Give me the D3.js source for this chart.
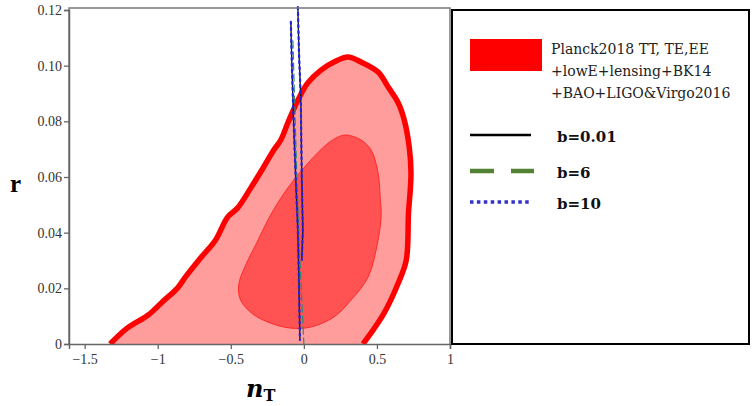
<!DOCTYPE html>
<html>
<head>
<meta charset="utf-8">
<script src="https://cdn.jsdelivr.net/npm/d3@7"></script>
<style>
  body { margin: 0; background: #fff; }
  svg { display: block; }
</style>
</head>
<body>
<svg id="chart" width="752" height="406"></svg>
<script>
// tick labels
const nTTicks = [-1.5, -1, -0.5, 0, 0.5, 1]
const rTicks = [0, 0.02, 0.04, 0.06, 0.08, 0.10, 0.12]

// 95% contour (outer)
const outerNT = [-1.326, -1.209, -1.065, -0.969, -0.865, -0.810, -0.707, -0.604, -0.522, -0.453, -0.364, -0.275, -0.206, -0.158, -0.110, -0.041, 0.027, 0.117, 0.206, 0.302, 0.391, 0.508, 0.577, 0.646, 0.687, 0.721, 0.733, 0.728, 0.716, 0.701, 0.646, 0.549, 0.405]
const outerR = [0, 0.0057, 0.0104, 0.0151, 0.0201, 0.0241, 0.0309, 0.0374, 0.0456, 0.0489, 0.0560, 0.0636, 0.0697, 0.0733, 0.0794, 0.0876, 0.0938, 0.0984, 0.1013, 0.1031, 0.1013, 0.0977, 0.0923, 0.0866, 0.0805, 0.0708, 0.0614, 0.0553, 0.0471, 0.0302, 0.0219, 0.0111, 0]

// 68% contour (inner)
const innerNT = [0.288, 0.391, 0.460, 0.508, 0.522, 0.529, 0.508, 0.440, 0.323, 0.206, 0.048, -0.089, -0.227, -0.350, -0.433, -0.446, -0.398, -0.323, -0.247, -0.158, -0.069, 0.048, 0.151, 0.220]
const innerR = [0.0751, 0.0733, 0.0697, 0.0614, 0.0528, 0.0463, 0.0374, 0.0241, 0.0158, 0.0097, 0.0061, 0.0057, 0.0075, 0.0108, 0.0158, 0.0212, 0.0284, 0.0363, 0.0445, 0.0524, 0.0589, 0.0661, 0.0715, 0.0740]

// model curves, two branches each
const branchLeftNT = [-0.089, -0.082, -0.068, -0.055, -0.041, -0.034, -0.027]
const branchLeftR = [0.1157, 0.1, 0.0765, 0.0585, 0.0409, 0.0230, 0.0014]
const branchRightNT = [-0.041, -0.034, -0.021, -0.014, -0.007, -0.014]
const branchRightR = [0.121, 0.1056, 0.0880, 0.0589, 0.0410, 0.0302]
const b6NT = [-0.075, -0.062, -0.048, -0.027, 0.0]
const b6R = [0.109, 0.085, 0.06, 0.03, 0]

const legendText = ['Planck2018 TT, TE,EE', '+lowE+lensing+BK14', '+BAO+LIGO&Virgo2016']
const seriesNames = ['b=0.01', 'b=6', 'b=10']

const svg = d3.select('#chart')
const margin = { top: 8, left: 69, right: 450, bottom: 344 }

const x = d3.scaleLinear().domain([0 - (303 - 69) / 145.6, 1.0]).range([margin.left, margin.right])
const y = d3.scaleLinear().domain([0, 0.12]).range([margin.bottom, 10])

const pts = (xs, ys) => xs.map((v, i) => [v, ys[i]])
const line = d3.line().x(d => x(d[0])).y(d => y(d[1]))

svg.append('clipPath').attr('id', 'clip')
  .append('rect').attr('x', margin.left).attr('y', 0)
  .attr('width', margin.right - margin.left).attr('height', margin.bottom)

const plot = svg.append('g').attr('clip-path', 'url(#clip)')

// outer contour fill + thick edge
const outer = pts(outerNT, outerR)
plot.append('path')
  .attr('d', line.curve(d3.curveCatmullRom)(outer) + 'Z')
  .attr('fill', '#ff9c9c')
plot.append('path')
  .attr('d', line.curve(d3.curveCatmullRom)(outer))
  .attr('fill', 'none')
  .attr('stroke', '#ff0000')
  .attr('stroke-width', 5.5)
  .attr('stroke-linejoin', 'round')

// inner contour
plot.append('path')
  .attr('d', line.curve(d3.curveCatmullRomClosed)(pts(innerNT, innerR)))
  .attr('fill', '#ff5252')
  .attr('stroke', '#ff2a2a')
  .attr('stroke-width', 1)

line.curve(d3.curveLinear)

// model curves
const curves = svg.append('g')
;[pts(branchLeftNT, branchLeftR), pts(branchRightNT, branchRightR)].forEach(b => {
  curves.append('path').attr('d', line(b))
    .attr('fill', 'none').attr('stroke', '#111').attr('stroke-width', 1.3)
})
curves.append('path').attr('d', line(pts(b6NT, b6R)))
  .attr('fill', 'none').attr('stroke', '#2a8a7a').attr('stroke-width', 1.2)
  .attr('stroke-dasharray', '8,3')
;[pts(branchLeftNT, branchLeftR), pts(branchRightNT, branchRightR)].forEach(b => {
  curves.append('path').attr('d', line(b))
    .attr('fill', 'none').attr('stroke', '#2222dd').attr('stroke-width', 2.2)
    .attr('stroke-dasharray', '2,4').attr('stroke-linecap', 'round')
})

// frame
svg.append('path')
  .attr('d', `M${margin.left},${margin.bottom}V${margin.top}H${margin.right}V${margin.bottom}`)
  .attr('fill', 'none').attr('stroke', '#777').attr('stroke-width', 1.5)

// axes
const xAxis = svg.append('g')
  .attr('transform', `translate(0,${margin.bottom})`)
  .call(d3.axisBottom(x).tickValues(nTTicks).tickSize(5).tickPadding(5)
    .tickFormat(d => d < 0 ? '\u2212' + Math.abs(d) : d))
const yAxis = svg.append('g')
  .attr('transform', `translate(${margin.left},0)`)
  .call(d3.axisLeft(y).tickValues(rTicks).tickSize(5).tickPadding(2)
    .tickFormat(d => d === 0 ? '0' : d.toFixed(2)))

;[xAxis, yAxis].forEach(a => {
  a.attr('font-family', null).attr('font-size', null)
  a.select('.domain').attr('stroke', '#666').attr('stroke-width', 1.5)
  a.selectAll('.tick line').attr('stroke', '#666').attr('stroke-width', 1.3)
  a.selectAll('.tick text')
    .style('font-family', '"Liberation Serif", "Times New Roman", serif')
    .style('font-size', '14px').attr('fill', '#333')
})

// axis titles
svg.append('text').attr('x', 10).attr('y', 192)
  .attr('font-family', 'Liberation Serif').attr('font-weight', 'bold')
  .attr('font-size', 25).text('r')
const nt = svg.append('text').attr('x', 246).attr('y', 397)
  .attr('font-family', 'DejaVu Serif').attr('font-weight', 'bold')
  .attr('font-size', 24)
nt.append('tspan').attr('font-style', 'italic').text('n')
nt.append('tspan').attr('font-size', 16).attr('dy', 4).text('T')

// legend
const lg = svg.append('g')
lg.append('rect').attr('x', 452).attr('y', 10).attr('width', 297).attr('height', 334)
  .attr('fill', '#fff').attr('stroke', '#000').attr('stroke-width', 2)
lg.append('rect').attr('x', 470).attr('y', 39).attr('width', 72).attr('height', 32).attr('fill', '#ff0000')
legendText.forEach((t, i) => {
  lg.append('text').attr('x', 551).attr('y', 54 + i * 22)
    .attr('font-family', 'DejaVu Serif').attr('font-size', 14).attr('fill', '#222').text(t)
})
const ly = [135, 171, 202]
lg.append('line').attr('x1', 470).attr('x2', 531).attr('y1', ly[0]).attr('y2', ly[0])
  .attr('stroke', '#000').attr('stroke-width', 2.5)
lg.append('line').attr('x1', 470).attr('x2', 534).attr('y1', ly[1]).attr('y2', ly[1])
  .attr('stroke', '#548235').attr('stroke-width', 4.5).attr('stroke-dasharray', '24,17')
lg.append('line').attr('x1', 470).attr('x2', 532).attr('y1', ly[2]).attr('y2', ly[2])
  .attr('stroke', '#3333cc').attr('stroke-width', 3.5).attr('stroke-dasharray', '3.5,3.4')
seriesNames.forEach((t, i) => {
  lg.append('text').attr('x', 557).attr('y', ly[i] + 7)
    .attr('font-family', 'DejaVu Serif').attr('font-weight', 'bold')
    .attr('font-size', 15).attr('fill', '#111').text(t)
})
</script>
</body>
</html>
